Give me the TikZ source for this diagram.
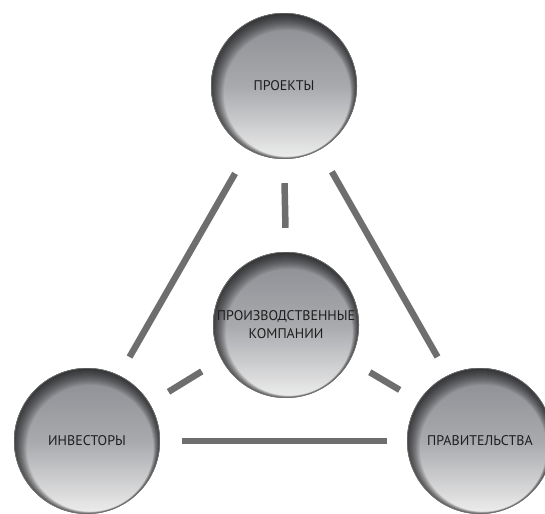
\documentclass[tikz,border=0pt]{standalone}
\usepackage{fontspec}
\setmainfont{PT Sans}
\usetikzlibrary{calc,backgrounds}
\definecolor{linegray}{HTML}{6E6E6E}
\definecolor{sphtop}{HTML}{8A8C91}
\definecolor{sphbot}{HTML}{EEEEEE}
\definecolor{txt}{HTML}{1E1E1E}
\tikzset{
  sphere/.style={circle, minimum size=146pt, inner sep=0pt, align=center,
    font=\fontsize{14}{18}\selectfont, text=txt},
  spherefill/.style={top color=sphtop, bottom color=sphbot, middle color=sphtop!70!sphbot},
  rimring/.style={fill=black, opacity=0.055, even odd rule},
  bar/.style={draw=linegray, line width=6.5pt}
}
\begin{document}
\begin{tikzpicture}[x=1pt,y=-1pt]
\useasboundingbox (0,0) rectangle (545,513);
\node[sphere] (top) at (284,86) {ПРОЕКТЫ};
\node[sphere] (mid) at (286,325) {ПРОИЗВОДСТВЕННЫЕ\\КОМПАНИИ};
\node[sphere] (inv) at (87,441) {ИНВЕСТОРЫ};
\node[sphere] (gov) at (480,441) {ПРАВИТЕЛЬСТВА};
\begin{scope}[on background layer]
  \foreach \n in {top,mid,inv,gov}{
    \shade[spherefill] (\n) circle (73pt);
    \foreach \k in {1,2,...,16}{
      \fill[rimring] (\n) circle (73pt)
        ($(\n)+(0.2*\k pt,-0.45*\k pt)$) circle ({(73-0.6*\k)*1pt});
    }
    \draw[black!55, line width=0.6pt] (\n) circle (72.7pt);
  }
\end{scope}
\draw[bar, shorten <=27pt, shorten >=21pt] (top.241) -- (inv.64);
\draw[bar, shorten <=25pt, shorten >=21pt] (top.299) -- (gov.116);
\draw[bar, shorten <=24pt, shorten >=24pt] (top.south) -- (mid.north);
\draw[bar, shorten <=23pt, shorten >=22pt] (mid.208) -- (inv.31);
\draw[bar, shorten <=23pt, shorten >=22pt] (mid.331) -- (gov.147);
\draw[bar, shorten <=22pt, shorten >=20pt] (inv.east) -- (gov.west);
\end{tikzpicture}
\end{document}
